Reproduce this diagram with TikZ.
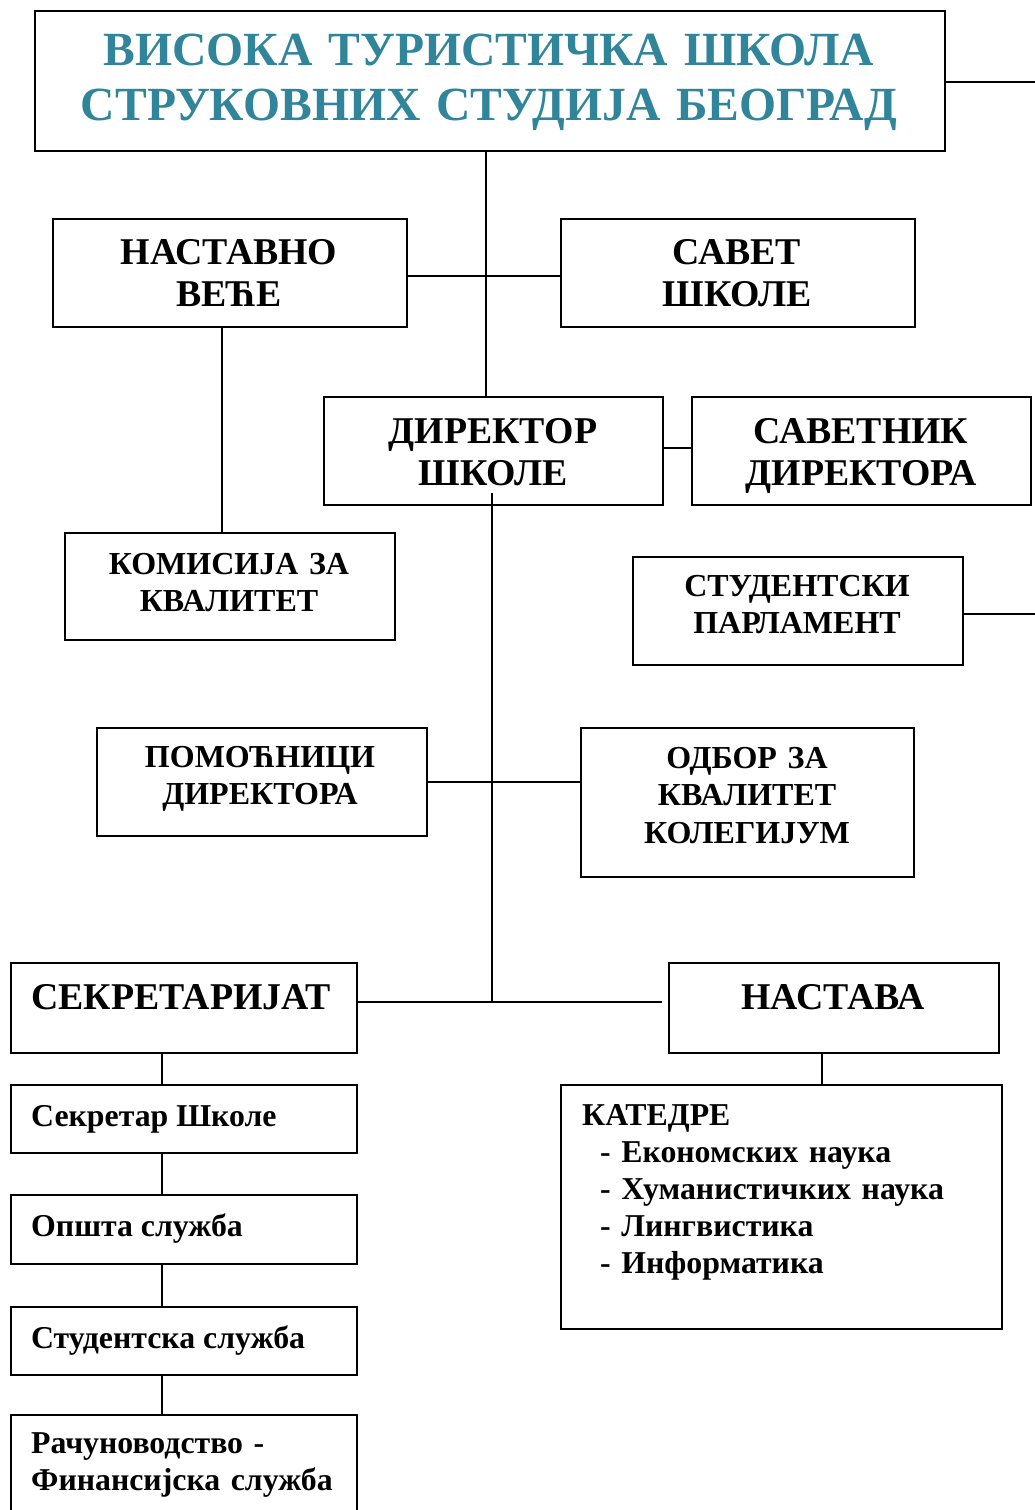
\documentclass[tikz,border=0pt]{standalone}
\usepackage{fontspec}
\setmainfont{Liberation Serif}
\definecolor{titleteal}{RGB}{49,133,155}
\begin{document}
\begin{tikzpicture}[x=1pt,y=-1pt,
  box/.style={draw=black, line width=1.9pt, inner sep=0pt, anchor=north west, fill=white},
  conn/.style={draw=black, line width=1.9pt},
  tbig/.style={font=\bfseries\fontsize{37.8}{42.5}\selectfont, inner sep=0pt, align=center, anchor=base},
  tmid/.style={font=\bfseries\fontsize{32}{37.5}\selectfont, inner sep=0pt, align=center, anchor=base},
  tsmall/.style={font=\bfseries\fontsize{31.8}{37}\selectfont, inner sep=0pt, align=left, anchor=base west},
  ttitle/.style={font=\bfseries\fontsize{47.6}{55}\selectfont, inner sep=0pt, align=center, anchor=base, text=titleteal}]
\useasboundingbox (0,0) rectangle (1035,1510);
\fill[white] (0,0) rectangle (1035,1510);

% boxes
\node[box, minimum width=910, minimum height=140] (title) at (34,10) {};
\node[box, minimum width=354, minimum height=108] (nv) at (52,218) {};
\node[box, minimum width=354, minimum height=108] (ss) at (560,218) {};
\node[box, minimum width=339, minimum height=108] (dir) at (323,396) {};
\node[box, minimum width=339, minimum height=108] (sav) at (691,396) {};
\node[box, minimum width=330, minimum height=107] (kom) at (64,532) {};
\node[box, minimum width=330, minimum height=108] (sp) at (632,556) {};
\node[box, minimum width=330, minimum height=108] (pom) at (96,727) {};
\node[box, minimum width=333, minimum height=149] (odb) at (580,727) {};
\node[box, minimum width=346, minimum height=90] (sek) at (10,962) {};
\node[box, minimum width=330, minimum height=90] (nas) at (668,962) {};
\node[box, minimum width=346, minimum height=68] (ssk) at (10,1084) {};
\node[box, minimum width=346, minimum height=69] (ops) at (10,1194) {};
\node[box, minimum width=346, minimum height=68] (stu) at (10,1306) {};
\node[box, minimum width=346, minimum height=110] (rac) at (10,1414) {};
\node[box, minimum width=441, minimum height=244] (kat) at (560,1084) {};

% helper coordinates
\coordinate (titleR) at (1035,82);
\coordinate (vx1) at (486,0);
\coordinate (hy1) at (0,276);
\coordinate (hy2) at (0,448);
\coordinate (vx2) at (222,0);
\coordinate (dirT) at (492,493);
\coordinate (junc) at (492,1002);
\coordinate (spR) at (1035,614);
\coordinate (hy3) at (0,782);
\coordinate (nasL) at (662,1002);
\coordinate (vx3) at (162,0);
\coordinate (vx4) at (822,0);

% connectors
\draw[conn] (title.east |- titleR) -- (titleR);
\draw[conn] (title.south -| vx1) -- (dir.north -| vx1);
\draw[conn] (nv.east |- hy1) -- (ss.west |- hy1);
\draw[conn] (dir.east |- hy2) -- (sav.west |- hy2);
\draw[conn] (nv.south -| vx2) -- (kom.north -| vx2);
\draw[conn] (dirT) -- (junc);
\draw[conn] (sp.east |- spR) -- (spR);
\draw[conn] (pom.east |- hy3) -- (odb.west |- hy3);
\draw[conn] (sek.east |- junc) -- (nasL);
\draw[conn] (sek.south -| vx3) -- (ssk.north -| vx3);
\draw[conn] (ssk.south -| vx3) -- (ops.north -| vx3);
\draw[conn] (ops.south -| vx3) -- (stu.north -| vx3);
\draw[conn] (stu.south -| vx3) -- (rac.north -| vx3);
\draw[conn] (nas.south -| vx4) -- (kat.north -| vx4);

% texts
\node[ttitle, text width=900] (ttl) at (489,65) {ВИСОКА ТУРИСТИЧКА ШКОЛА\\СТРУКОВНИХ СТУДИЈА БЕОГРАД};
\node[tbig, text width=350] (tnv) at (229,264) {НАСТАВНО\\ВЕЋЕ};
\node[tbig, text width=350] (tss) at (737,264) {САВЕТ\\ШКОЛЕ};
\node[tbig, text width=335] (tdir) at (493,443) {ДИРЕКТОР\\ШКОЛЕ};
\node[tbig, text width=335] (tsav) at (861,443) {САВЕТНИК\\ДИРЕКТОРА};
\node[tmid, text width=326] (tkom) at (229,574) {КОМИСИЈА ЗА\\КВАЛИТЕТ};
\node[tmid, text width=326] (tsp) at (797,596) {СТУДЕНТСКИ\\ПАРЛАМЕНТ};
\node[tmid, text width=326] (tpom) at (260,767) {ПОМОЋНИЦИ\\ДИРЕКТОРА};
\node[tmid, text width=330] (todb) at (747,768) {ОДБОР ЗА\\КВАЛИТЕТ\\КОЛЕГИЈУМ};
\node[tbig, text width=344] (tsek) at (181,1009) {СЕКРЕТАРИЈАТ};
\node[tbig, text width=326] (tnas) at (833,1009) {НАСТАВА};
\node[tsmall] (tssk) at (31,1126) {Секретар Школе};
\node[tsmall] (tops) at (31,1236) {Општа служба};
\node[tsmall] (tstu) at (31,1348) {Студентска служба};
\node[tsmall, text width=330] (trac) at (31,1453) {Рачуноводство -\\Финансијска служба};
\node[tsmall, text width=420] (tkat) at (582,1125) {КАТЕДРЕ\\
  \hspace*{18pt}- Економских наука\\
  \hspace*{18pt}- Хуманистичких наука\\
  \hspace*{18pt}- Лингвистика\\
  \hspace*{18pt}- Информатика};
\end{tikzpicture}
\end{document}
